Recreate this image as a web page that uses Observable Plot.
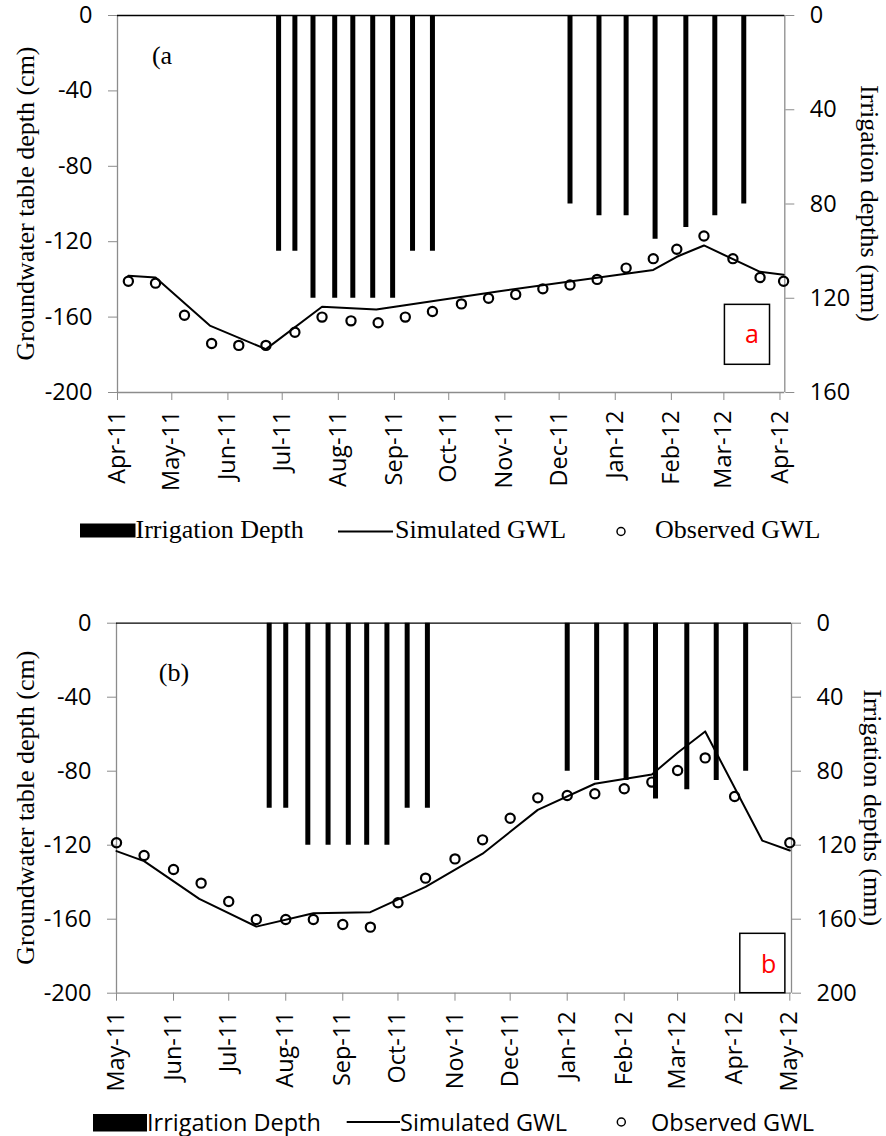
<!DOCTYPE html>
<html><head><meta charset="utf-8">
<script src="https://cdn.jsdelivr.net/npm/d3@7"></script>
<script src="https://cdn.jsdelivr.net/npm/@observablehq/plot@0.6"></script>
<style>
body{margin:0;background:#fff;}
#wrap{position:relative;width:886px;height:1136px;overflow:hidden;background:#fff;}
#wrap > svg{position:absolute;left:0;}
</style></head><body><div id="wrap"></div>
<script>
// ---------- Panel (a) data ----------
const obsDatesA = ["2011-04-07","2011-04-22","2011-05-08","2011-05-23","2011-06-07","2011-06-22","2011-07-08","2011-07-23","2011-08-08","2011-08-23","2011-09-07","2011-09-22","2011-10-08","2011-10-23","2011-11-07","2011-11-22","2011-12-07","2011-12-22","2012-01-07","2012-01-22","2012-02-04","2012-02-19","2012-03-06","2012-03-21","2012-04-03"];
const obsGwlA = [-141,-142,-159,-174,-175,-175,-168,-160,-162,-163,-160,-157,-153,-150,-148,-145,-143,-140,-134,-129,-124,-117,-129,-139,-141];
const simDatesA = ["2011-04-07","2011-04-22","2011-05-22","2011-06-22","2011-07-23","2011-08-22","2011-10-29","2012-01-22","2012-02-04","2012-02-19","2012-03-21","2012-04-03"];
const simGwlA = [-138,-139,-164.5,-177,-154.5,-156,-146.3,-135,-128,-122,-136,-137.5];
const irrDatesA = ["2011-06-29","2011-07-08","2011-07-18","2011-07-30","2011-08-09","2011-08-20","2011-08-31","2011-09-11","2011-09-22","2011-12-07","2011-12-23","2012-01-07","2012-01-23","2012-02-09","2012-02-25","2012-03-12"];
const irrMmA = [100,100,120,120,120,120,120,100,100,80,85,85,95,90,85,80];
const monthTicksA = ["2011-04-01","2011-05-01","2011-06-01","2011-07-01","2011-08-01","2011-09-01","2011-10-01","2011-11-01","2011-12-01","2012-01-01","2012-02-01","2012-03-01","2012-04-01"];
const xDomainA = ["2011-04-01","2012-04-03T16:00"];
const rightTicksA = [0,40,80,120,160];   // mm
const rightMaxA = 160;

// ---------- Panel (b) data ----------
const obsDatesB = ["2011-05-01","2011-05-16","2011-06-01","2011-06-16","2011-07-01","2011-07-16","2011-08-01","2011-08-16","2011-09-01","2011-09-16","2011-10-01","2011-10-16","2011-11-01","2011-11-16","2011-12-01","2011-12-16","2012-01-01","2012-01-16","2012-02-01","2012-02-16","2012-03-01","2012-03-16","2012-04-01","2012-05-01"];
const obsGwlB = [-118.7,-125.6,-133.1,-140.5,-150.4,-160.2,-160.2,-160.2,-162.9,-164.3,-151.1,-137.8,-127.4,-117.1,-105.4,-94.4,-93.1,-92.2,-89.5,-85.9,-79.6,-72.8,-93.7,-118.7];
const simDatesB = ["2011-05-01","2011-05-16","2011-06-15","2011-07-16","2011-08-16","2011-09-16","2011-10-16","2011-11-16","2011-12-16","2012-01-16","2012-02-16","2012-03-01","2012-03-16","2012-04-16","2012-05-01"];
const simGwlB = [-123.2,-128.6,-149,-164,-156.8,-156.2,-142.5,-124.6,-100.9,-86.8,-81.8,-70,-58.5,-117.5,-122.9];
const irrDatesB = ["2011-07-23","2011-08-01","2011-08-13","2011-08-24","2011-09-04","2011-09-14","2011-09-25","2011-10-06","2011-10-17","2012-01-01","2012-01-17","2012-02-02","2012-02-18","2012-03-06","2012-03-22","2012-04-07"];
const irrMmB = [100,100,120,120,120,120,120,100,100,80,85,85,95,90,85,80];
const monthTicksB = ["2011-05-01","2011-06-01","2011-07-01","2011-08-01","2011-09-01","2011-10-01","2011-11-01","2011-12-01","2012-01-01","2012-02-01","2012-03-01","2012-04-01","2012-05-01"];
const xDomainB = ["2011-05-01","2012-05-01T22:00"];
const rightTicksB = [0,40,80,120,160,200];
const rightMaxB = 200;

const leftTicks = [0,-40,-80,-120,-160,-200];
const yLabel = "Groundwater table depth (cm)";
const y2Label = "Irrigation depths (mm)";
const legendLabels = ["Irrigation Depth","Simulated GWL","Observed GWL"];

// annotations (data coordinates)
const annotA = [{date:"2011-04-20", value:-25.5, label:"(a"}];
const annotB = [{date:"2011-05-24", value:-31, label:"(b)"}];
const boxA = [{x1:"2012-03-01T14:00", x2:"2012-03-26T12:00", y1:-153.5, y2:-185.3, label:"a", lx:"2012-03-16T12:00", ly:-173.5}];
const boxB = [{x1:"2012-04-04T02:00", x2:"2012-04-28T14:00", y1:-167.9, y2:-200, label:"b", lx:"2012-04-19T12:00", ly:-189.2}];

const D = s => new Date(s);
const rows = (ds, vs, key) => ds.map((d,i)=>({date:D(d), [key]:vs[i]}));

const GRAY = "#8c8c8c";
const SERIF = "'Liberation Serif','Times New Roman',serif";
const SANS = "'Open Sans',sans-serif";

function panel(cfg){
  const k = 200 / cfg.rightMax;
  const obs = rows(cfg.obsDates, cfg.obsGwl, "value");
  const sim = rows(cfg.simDates, cfg.simGwl, "value");
  const irr = rows(cfg.irrDates, cfg.irrMm, "mm");
  const dom = cfg.xDomain.map(D);
  const box = cfg.box.map(b=>({...b, x1:D(b.x1), x2:D(b.x2), lx:D(b.lx)}));
  const ann = cfg.annot.map(a=>({...a, date:D(a.date)}));
  const chart = Plot.plot({
    width: 886, height: cfg.height,
    marginTop: cfg.mt, marginBottom: cfg.mb, marginLeft: cfg.ml, marginRight: cfg.mr,
    style: {fontFamily: SANS, fontSize: "23.5px", background: "white", color: "black", overflow: "visible"},
    x: {type: "utc", domain: dom},
    y: {domain: [-200, 0]},
    marks: [
      Plot.ruleX(irr, {x: "date", y1: 0, y2: d => -d.mm * k, stroke: "black", strokeWidth: 5}),
      Plot.ruleX([dom[0]], {stroke: GRAY, strokeWidth: 1.3}),
      Plot.ruleX([dom[1]], {stroke: GRAY, strokeWidth: 1.3}),
      Plot.ruleY([-200], {stroke: GRAY, strokeWidth: 1.3}),
      Plot.ruleY([0], {stroke: "black", strokeWidth: 1.3}),
      Plot.axisY({ticks: leftTicks, tickFormat: d => String(d), tickSize: 9, tickPadding: 16, stroke: GRAY, fill: "black", label: null}),
      Plot.axisY({anchor: "right", ticks: cfg.rightTicks.map(v => -v * k), tickFormat: d => String(Math.round(-d / k)), tickSize: 9, tickPadding: 16, stroke: GRAY, fill: "black", label: null}),
      Plot.axisX({ticks: cfg.monthTicks.map(D), tickFormat: d3.utcFormat("%b-%y"), tickRotate: -90, tickSize: 8, tickPadding: 10, stroke: GRAY, fill: "black", label: null}),
      Plot.rect(box, {x1: "x1", x2: "x2", y1: "y1", y2: "y2", fill: "white", stroke: "black", strokeWidth: 1.5}),
      Plot.text(box, {x: "lx", y: "ly", text: "label", fill: "red", fontFamily: SANS, fontSize: 25, lineAnchor: "bottom"}),
      Plot.line(sim, {x: "date", y: "value", stroke: "black", strokeWidth: 2}),
      Plot.dot(obs, {x: "date", y: "value", r: 4.6, stroke: "black", strokeWidth: 2.2, fill: "none"}),
      Plot.text(ann, {x: "date", y: "value", text: "label", textAnchor: "start", lineAnchor: "bottom", fontFamily: SERIF, fontSize: 26})
    ]
  });
  // axis titles, placed from the chart's own scales
  const xr = chart.scale("x").range, yr = chart.scale("y").range;
  const ymid = (yr[0] + yr[1]) / 2;
  const s = d3.select(chart);
  s.append("text").attr("transform", `translate(${xr[0] + cfg.yLabelDx},${ymid}) rotate(-90)`)
    .attr("text-anchor", "middle").attr("dominant-baseline", "central")
    .attr("font-family", SERIF).attr("font-size", 26).attr("fill", "black").text(yLabel);
  s.append("text").attr("transform", `translate(${xr[1] + cfg.y2LabelDx},${ymid}) rotate(90)`)
    .attr("text-anchor", "middle").attr("dominant-baseline", "central")
    .attr("font-family", SERIF).attr("font-size", 26).attr("fill", "black").text(y2Label);
  return chart;
}

const wrap = document.getElementById("wrap");

const svgA = panel({
  height: 505, mt: 15, mb: 113, ml: 117, mr: 101.7,
  obsDates: obsDatesA, obsGwl: obsGwlA, simDates: simDatesA, simGwl: simGwlA,
  irrDates: irrDatesA, irrMm: irrMmA, monthTicks: monthTicksA, xDomain: xDomainA,
  rightTicks: rightTicksA, rightMax: rightMaxA, annot: annotA, box: boxA,
  yLabelDx: -92, y2LabelDx: 85
});
svgA.style.top = "0px";
wrap.appendChild(svgA);

const svgB = panel({
  height: 505, mt: 22.7, mb: 112.3, ml: 116, mr: 95,
  obsDates: obsDatesB, obsGwl: obsGwlB, simDates: simDatesB, simGwl: simGwlB,
  irrDates: irrDatesB, irrMm: irrMmB, monthTicks: monthTicksB, xDomain: xDomainB,
  rightTicks: rightTicksB, rightMax: rightMaxB, annot: annotB, box: boxB,
  yLabelDx: -91, y2LabelDx: 81
});
svgB.style.top = "600px";
wrap.appendChild(svgB);

// ---------- Legends ----------
function legend(top, o){
  const svg = d3.create("svg").attr("width", 886).attr("height", 60)
    .style("top", top + "px").style("overflow", "visible");
  const g = svg.append("g").attr("font-family", o.font).attr("font-size", o.size).attr("fill", "black");
  g.append("rect").attr("x", o.rx).attr("y", o.ry).attr("width", o.rw).attr("height", o.rh).attr("fill", "black");
  g.append("text").attr("x", o.t1).attr("y", o.base).text(legendLabels[0]);
  g.append("line").attr("x1", o.l1).attr("x2", o.l2).attr("y1", o.ly).attr("y2", o.ly).attr("stroke", "black").attr("stroke-width", 2);
  g.append("text").attr("x", o.t2).attr("y", o.base).text(legendLabels[1]);
  g.append("circle").attr("cx", o.cx).attr("cy", o.ly).attr("r", 4).attr("fill", "none").attr("stroke", "black").attr("stroke-width", 1.5);
  g.append("text").attr("x", o.t3).attr("y", o.base).text(legendLabels[2]);
  return svg.node();
}
wrap.appendChild(legend(500, {font: SERIF, size: 26, rx: 80, ry: 23.5, rw: 55.5, rh: 14, t1: 135.5, base: 37.5, l1: 338, l2: 393, ly: 31.5, t2: 395, cx: 621, t3: 655}));
wrap.appendChild(legend(1090, {font: SANS, size: 23.5, rx: 93, ry: 24, rw: 54, rh: 17.5, t1: 147, base: 40.5, l1: 346.7, l2: 400, ly: 32, t2: 400, cx: 621.3, t3: 651}));
</script></body></html>
